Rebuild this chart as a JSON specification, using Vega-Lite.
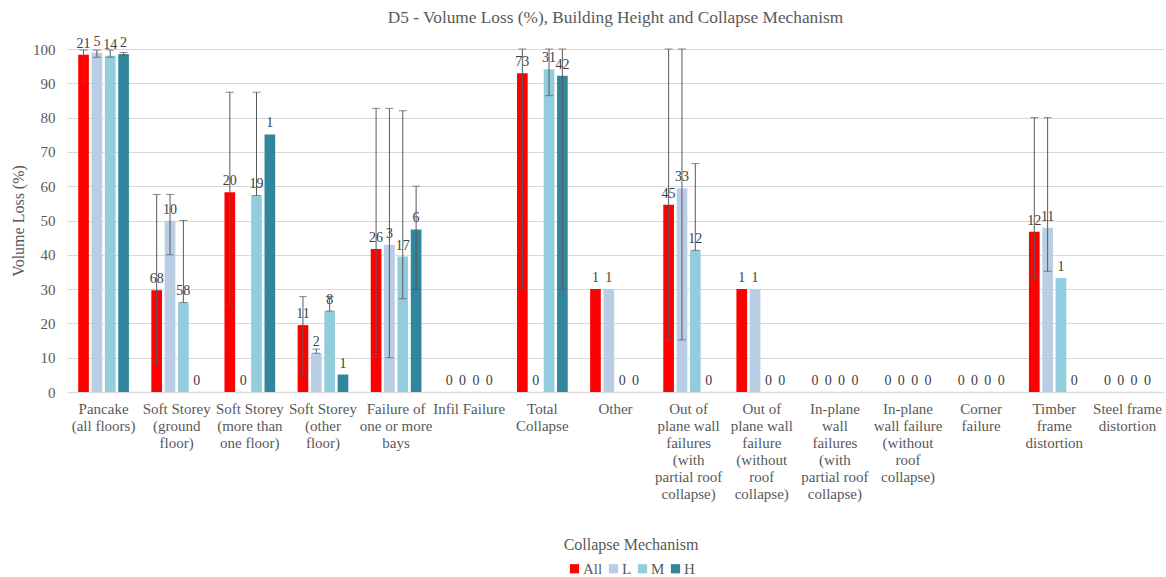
{
  "$schema": "https://vega.github.io/schema/vega-lite/v6.json",
  "width": 1097,
  "height": 343,
  "autosize": {"type": "none"},
  "padding": {"left": 67, "top": 49, "right": 2, "bottom": 185},
  "background": "white",
  "title": {
    "text": "D5 - Volume Loss (%), Building Height and Collapse Mechanism",
    "font": "Liberation Serif",
    "fontSize": 17.3,
    "fontWeight": "normal",
    "color": "#595959",
    "anchor": "middle",
    "frame": "group",
    "offset": 8
  },
  "config": {
    "view": {"stroke": null},
    "font": "Liberation Serif",
    "axisY": {
      "tickCount": 10,
      "labelOverlap": false,
      "labelFont": "Liberation Serif",
      "labelFontSize": 15,
      "labelColor": "#595959",
      "labelPadding": 12,
      "ticks": false,
      "domain": false,
      "gridColor": "#D9D9D9",
      "gridWidth": 1,
      "titleFont": "Liberation Serif",
      "titleFontSize": 16,
      "titleFontWeight": "normal",
      "titleColor": "#595959",
      "titlePadding": 6
    }
  },
  "data": {
    "values": [
      {"cat": "Pancake\n(all floors)", "h": "All", "v": 98.3, "lo": 90, "hi": 99.7, "n": "21"},
      {"cat": "Pancake\n(all floors)", "h": "L", "v": 98.9, "lo": 97.6, "hi": 99.7, "n": "5"},
      {"cat": "Pancake\n(all floors)", "h": "M", "v": 98.0, "lo": 97.6, "hi": 99.7, "n": "14"},
      {"cat": "Pancake\n(all floors)", "h": "H", "v": 98.5, "lo": 98.3, "hi": 99.0, "n": "2"},
      {"cat": "Soft Storey\n(ground\nfloor)", "h": "All", "v": 29.7, "lo": 8.5, "hi": 57.6, "n": "68"},
      {"cat": "Soft Storey\n(ground\nfloor)", "h": "L", "v": 49.9, "lo": 40, "hi": 57.6, "n": "10"},
      {"cat": "Soft Storey\n(ground\nfloor)", "h": "M", "v": 26.1, "lo": 26.1, "hi": 50, "n": "58"},
      {"cat": "Soft Storey\n(ground\nfloor)", "h": "H", "v": 0, "lo": null, "hi": null, "n": "0"},
      {"cat": "Soft Storey\n(more than\none floor)", "h": "All", "v": 58.2, "lo": 25.1, "hi": 87.4, "n": "20"},
      {"cat": "Soft Storey\n(more than\none floor)", "h": "L", "v": 0, "lo": null, "hi": null, "n": "0"},
      {"cat": "Soft Storey\n(more than\none floor)", "h": "M", "v": 57.3, "lo": 57.3, "hi": 87.4, "n": "19"},
      {"cat": "Soft Storey\n(more than\none floor)", "h": "H", "v": 75.1, "lo": null, "hi": null, "n": "1"},
      {"cat": "Soft Storey\n(other\nfloor)", "h": "All", "v": 19.5, "lo": 5.1, "hi": 27.8, "n": "11"},
      {"cat": "Soft Storey\n(other\nfloor)", "h": "L", "v": 11.3, "lo": 11.3, "hi": 12.5, "n": "2"},
      {"cat": "Soft Storey\n(other\nfloor)", "h": "M", "v": 23.6, "lo": 23.6, "hi": 27.8, "n": "8"},
      {"cat": "Soft Storey\n(other\nfloor)", "h": "H", "v": 5.1, "lo": null, "hi": null, "n": "1"},
      {"cat": "Failure of\none or more\nbays", "h": "All", "v": 41.7, "lo": 10, "hi": 82.7, "n": "26"},
      {"cat": "Failure of\none or more\nbays", "h": "L", "v": 42.9, "lo": 10, "hi": 82.7, "n": "3"},
      {"cat": "Failure of\none or more\nbays", "h": "M", "v": 39.5, "lo": 27.2, "hi": 82.0, "n": "17"},
      {"cat": "Failure of\none or more\nbays", "h": "H", "v": 47.4, "lo": 30, "hi": 60, "n": "6"},
      {"cat": "Infil Failure", "h": "All", "v": 0, "lo": null, "hi": null, "n": "0"},
      {"cat": "Infil Failure", "h": "L", "v": 0, "lo": null, "hi": null, "n": "0"},
      {"cat": "Infil Failure", "h": "M", "v": 0, "lo": null, "hi": null, "n": "0"},
      {"cat": "Infil Failure", "h": "H", "v": 0, "lo": null, "hi": null, "n": "0"},
      {"cat": "Total\nCollapse", "h": "All", "v": 92.9, "lo": 30, "hi": 100, "n": "73"},
      {"cat": "Total\nCollapse", "h": "L", "v": 0, "lo": null, "hi": null, "n": "0"},
      {"cat": "Total\nCollapse", "h": "M", "v": 94.1, "lo": 86.4, "hi": 100, "n": "31"},
      {"cat": "Total\nCollapse", "h": "H", "v": 92.2, "lo": 30, "hi": 100, "n": "42"},
      {"cat": "Other", "h": "All", "v": 30, "lo": null, "hi": null, "n": "1"},
      {"cat": "Other", "h": "L", "v": 30, "lo": null, "hi": null, "n": "1"},
      {"cat": "Other", "h": "M", "v": 0, "lo": null, "hi": null, "n": "0"},
      {"cat": "Other", "h": "H", "v": 0, "lo": null, "hi": null, "n": "0"},
      {"cat": "Out of\nplane wall\nfailures\n(with\npartial roof\ncollapse)", "h": "All", "v": 54.6, "lo": 15.2, "hi": 100, "n": "45"},
      {"cat": "Out of\nplane wall\nfailures\n(with\npartial roof\ncollapse)", "h": "L", "v": 59.4, "lo": 15.2, "hi": 100, "n": "33"},
      {"cat": "Out of\nplane wall\nfailures\n(with\npartial roof\ncollapse)", "h": "M", "v": 41.3, "lo": 41.3, "hi": 66.6, "n": "12"},
      {"cat": "Out of\nplane wall\nfailures\n(with\npartial roof\ncollapse)", "h": "H", "v": 0, "lo": null, "hi": null, "n": "0"},
      {"cat": "Out of\nplane wall\nfailure\n(without\nroof\ncollapse)", "h": "All", "v": 30, "lo": null, "hi": null, "n": "1"},
      {"cat": "Out of\nplane wall\nfailure\n(without\nroof\ncollapse)", "h": "L", "v": 30, "lo": null, "hi": null, "n": "1"},
      {"cat": "Out of\nplane wall\nfailure\n(without\nroof\ncollapse)", "h": "M", "v": 0, "lo": null, "hi": null, "n": "0"},
      {"cat": "Out of\nplane wall\nfailure\n(without\nroof\ncollapse)", "h": "H", "v": 0, "lo": null, "hi": null, "n": "0"},
      {"cat": "In-plane\nwall\nfailures\n(with\npartial roof\ncollapse)", "h": "All", "v": 0, "lo": null, "hi": null, "n": "0"},
      {"cat": "In-plane\nwall\nfailures\n(with\npartial roof\ncollapse)", "h": "L", "v": 0, "lo": null, "hi": null, "n": "0"},
      {"cat": "In-plane\nwall\nfailures\n(with\npartial roof\ncollapse)", "h": "M", "v": 0, "lo": null, "hi": null, "n": "0"},
      {"cat": "In-plane\nwall\nfailures\n(with\npartial roof\ncollapse)", "h": "H", "v": 0, "lo": null, "hi": null, "n": "0"},
      {"cat": "In-plane\nwall failure\n(without\nroof\ncollapse)", "h": "All", "v": 0, "lo": null, "hi": null, "n": "0"},
      {"cat": "In-plane\nwall failure\n(without\nroof\ncollapse)", "h": "L", "v": 0, "lo": null, "hi": null, "n": "0"},
      {"cat": "In-plane\nwall failure\n(without\nroof\ncollapse)", "h": "M", "v": 0, "lo": null, "hi": null, "n": "0"},
      {"cat": "In-plane\nwall failure\n(without\nroof\ncollapse)", "h": "H", "v": 0, "lo": null, "hi": null, "n": "0"},
      {"cat": "Corner\nfailure", "h": "All", "v": 0, "lo": null, "hi": null, "n": "0"},
      {"cat": "Corner\nfailure", "h": "L", "v": 0, "lo": null, "hi": null, "n": "0"},
      {"cat": "Corner\nfailure", "h": "M", "v": 0, "lo": null, "hi": null, "n": "0"},
      {"cat": "Corner\nfailure", "h": "H", "v": 0, "lo": null, "hi": null, "n": "0"},
      {"cat": "Timber\nframe\ndistortion", "h": "All", "v": 46.7, "lo": 33.1, "hi": 80, "n": "12"},
      {"cat": "Timber\nframe\ndistortion", "h": "L", "v": 47.9, "lo": 35.2, "hi": 80, "n": "11"},
      {"cat": "Timber\nframe\ndistortion", "h": "M", "v": 33.2, "lo": null, "hi": null, "n": "1"},
      {"cat": "Timber\nframe\ndistortion", "h": "H", "v": 0, "lo": null, "hi": null, "n": "0"},
      {"cat": "Steel frame\ndistortion", "h": "All", "v": 0, "lo": null, "hi": null, "n": "0"},
      {"cat": "Steel frame\ndistortion", "h": "L", "v": 0, "lo": null, "hi": null, "n": "0"},
      {"cat": "Steel frame\ndistortion", "h": "M", "v": 0, "lo": null, "hi": null, "n": "0"},
      {"cat": "Steel frame\ndistortion", "h": "H", "v": 0, "lo": null, "hi": null, "n": "0"}
    ]
  },
  "encoding": {
    "x": {
      "field": "cat",
      "type": "nominal",
      "sort": null,
      "scale": {"paddingInner": 0.27, "paddingOuter": 0.135},
      "axis": {
        "title": null,
        "labelAngle": 0,
        "labelExpr": "split(datum.value, '\\n')",
        "labelFont": "Liberation Serif",
        "labelFontSize": 15,
        "labelColor": "#595959",
        "labelLineHeight": 17,
        "labelPadding": 9,
        "labelBaseline": "top",
        "ticks": false,
        "domainColor": "#D9D9D9",
        "domainWidth": 1.5,
        "grid": false
      }
    },
    "xOffset": {
      "field": "h",
      "type": "nominal",
      "sort": ["All", "L", "M", "H"],
      "scale": {"paddingInner": 0.2, "paddingOuter": 0.1}
    }
  },
  "layer": [
    {
      "mark": {"type": "bar"},
      "encoding": {
        "y": {
          "field": "v",
          "type": "quantitative",
          "scale": {"domain": [0, 100], "nice": false},
          "axis": {"title": "Volume Loss (%)"}
        },
        "color": {
          "field": "h",
          "type": "nominal",
          "sort": ["All", "L", "M", "H"],
          "scale": {"domain": ["All", "L", "M", "H"], "range": ["#FF0000", "#B9CDE5", "#93CDDD", "#31859C"]},
          "legend": {
            "title": "Collapse Mechanism",
            "orient": "none",
            "legendX": 497,
            "legendY": 488,
            "direction": "horizontal",
            "titleAnchor": "middle",
            "titleFont": "Liberation Serif",
            "titleFontSize": 16,
            "titleFontWeight": "normal",
            "titleColor": "#595959",
            "titlePadding": 8,
            "labelFont": "Liberation Serif",
            "labelFontSize": 15,
            "labelColor": "#595959",
            "labelOffset": 1,
            "symbolType": "square",
            "symbolSize": 85,
            "symbolStrokeWidth": 0,
            "columnPadding": 3,
            "padding": 0
          }
        }
      }
    },
    {
      "transform": [{"filter": "isValid(datum.lo)"}],
      "mark": {"type": "rule", "color": "#595959", "strokeWidth": 1},
      "encoding": {
        "y": {"field": "lo", "type": "quantitative"},
        "y2": {"field": "hi"}
      }
    },
    {
      "transform": [{"filter": "isValid(datum.lo)"}],
      "mark": {"type": "tick", "color": "#595959", "orient": "horizontal", "size": 8, "thickness": 1},
      "encoding": {
        "y": {"field": "lo", "type": "quantitative"}
      }
    },
    {
      "transform": [{"filter": "isValid(datum.lo)"}],
      "mark": {"type": "tick", "color": "#595959", "orient": "horizontal", "size": 8, "thickness": 1},
      "encoding": {
        "y": {"field": "hi", "type": "quantitative"}
      }
    },
    {
      "mark": {"type": "text", "baseline": "bottom", "dy": -4, "font": "Liberation Serif", "fontSize": 14, "fill": "#404040"},
      "encoding": {
        "y": {"field": "v", "type": "quantitative"},
        "text": {"field": "n", "type": "nominal"}
      }
    }
  ]
}
